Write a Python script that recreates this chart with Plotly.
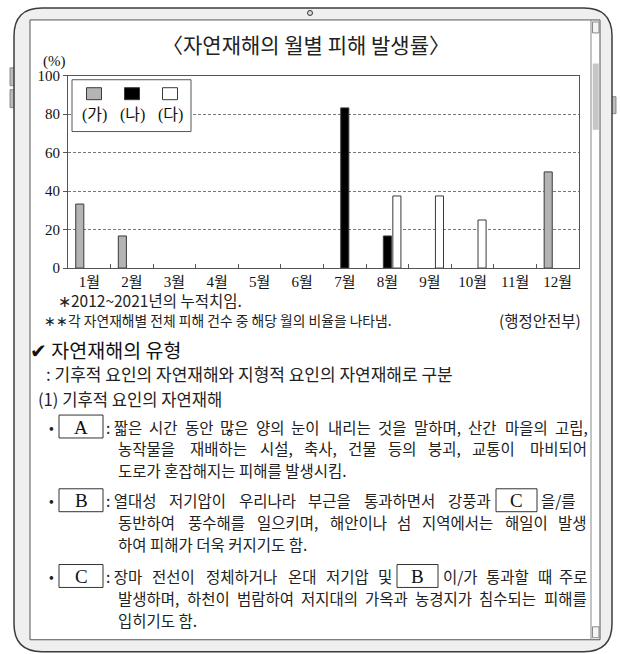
import plotly.graph_objects as go

# ---------------- data ----------------
months = ["1월", "2월", "3월", "4월", "5월", "6월", "7월", "8월", "9월", "10월", "11월", "12월"]
series_names = ["(가)", "(나)", "(다)"]
ga_values = [33.3, 16.7, None, None, None, None, None, None, None, None, None, 50.0]
na_values = [None, None, None, None, None, None, 83.3, 16.7, None, None, None, None]
da_values = [None, None, None, None, None, None, None, 37.5, 37.5, 25.0, None, None]
y_ticks = [0, 20, 40, 60, 80, 100]

W, H = 620, 654
YS, YO = 0.979, 6.0  # compensation for the photographed page


def X(px):
    return px / W


def Y(py):
    return 1 - ((py - YO) / YS) / H


SERIF = "Liberation Serif, Noto Sans CJK KR, serif"
SANS = "Noto Sans CJK KR, Noto Sans, sans-serif"
BODY = 15.5

fig = go.Figure()
colors = ["#b4b4b4", "#000000", "#ffffff"]
for name, vals, col in zip(series_names, [ga_values, na_values, da_values], colors):
    fig.add_trace(go.Bar(
        x=months, y=vals, name=name,
        marker=dict(color=col, line=dict(color="#3a3a3a", width=1)),
        showlegend=False, hoverinfo="skip",
    ))

shapes = []
ann = []


def rect(x0, y0, x1, y1, fill="rgba(0,0,0,0)", line="#333", lw=1, layer="above"):
    shapes.append(dict(type="rect", xref="paper", yref="paper",
                       x0=X(x0), x1=X(x1), y0=Y(y0), y1=Y(y1),
                       fillcolor=fill, line=dict(color=line, width=lw), layer=layer))


def rounded_path(x0, y0, x1, y1, r):
    pts = [
        ("M", [(x0 + r, y0)]),
        ("L", [(x1 - r, y0)]),
        ("Q", [(x1, y0), (x1, y0 + r)]),
        ("L", [(x1, y1 - r)]),
        ("Q", [(x1, y1), (x1 - r, y1)]),
        ("L", [(x0 + r, y1)]),
        ("Q", [(x0, y1), (x0, y1 - r)]),
        ("L", [(x0, y0 + r)]),
        ("Q", [(x0, y0), (x0 + r, y0)]),
    ]
    s = ""
    for cmd, ps in pts:
        s += cmd + " ".join(f"{X(px):.5f},{Y(py):.5f}" for px, py in ps) + " "
    return s + "Z"


# tablet frame
for (bx0, by0, bx1, by1) in [(10, 66, 14.5, 84), (10, 88, 14.5, 106), (611, 95, 616, 112)]:
    shapes.append(dict(type="rect", xref="paper", yref="paper", x0=X(bx0), x1=X(bx1), y0=Y(by0), y1=Y(by1),
                       fillcolor="#bdbdbd", line=dict(color="#777", width=0.8), layer="below"))
shapes.append(dict(type="path", xref="paper", yref="paper", path=rounded_path(14, 6, 612, 652, 28),
                   fillcolor="#efefef", line=dict(color="#3c3c3c", width=1.5), layer="below"))
rect(30, 18, 600, 640, fill="#ffffff", line="#555", lw=1, layer="below")
# camera
shapes.append(dict(type="circle", xref="paper", yref="paper", x0=X(307.5), x1=X(312.5), y0=Y(8.5), y1=Y(13.5),
                   fillcolor="#dddddd", line=dict(color="#333", width=1), layer="below"))
# scrollbar
shapes.append(dict(type="line", xref="paper", yref="paper", x0=X(591), x1=X(591), y0=Y(18), y1=Y(640),
                   line=dict(color="#888", width=1), layer="below"))
rect(592.5, 20, 599, 31, fill="#f4f4f4", line="#888", lw=1, layer="below")
rect(593, 62, 598.5, 128, fill="#c6c6c6", line="#c6c6c6", lw=0.5, layer="below")
rect(592.5, 627, 599, 638, fill="#f4f4f4", line="#888", lw=1, layer="below")


def txt(s, x, y, size=BODY, anchor="left", family=SANS, color="#222"):
    ann.append(dict(text=s, x=X(x), y=Y(y), xref="paper", yref="paper", showarrow=False,
                    xanchor=anchor, yanchor="middle", borderpad=0,
                    font=dict(family=family, size=size, color=color)))


def est_width(word, size):
    w = 0.0
    for ch in word:
        if 0xAC00 <= ord(ch) <= 0xD7A3:
            w += 1.0
        elif ch in ",.:;":
            w += 0.25
        elif ch == " ":
            w += 0.224
        elif ch in "/()":
            w += 0.38
        else:
            w += 0.55
    return w * size


def justify(line, x0, x1, y, size=BODY):
    """Spread the words of a line so it fills x0..x1 (justified text)."""
    words = line.split(" ")
    if words[0] == ":":
        words = [": " + words[1]] + words[2:]
    widths = [est_width(w, size) for w in words]
    gap = (x1 - x0 - sum(widths)) / (len(words) - 1)
    pos = x0
    for i, (w, wd) in enumerate(zip(words, widths)):
        if i == 0:
            txt(w, x0, y, size)
        elif i == len(words) - 1:
            txt(w, x1, y, size, anchor="right")
        else:
            txt(w, pos + wd / 2, y, size, anchor="center")
        pos += wd + gap


# custom legend (swatch above label)
rect(72, 78, 191, 130, fill="#ffffff", line="#555", lw=1)
leg_x = [94, 132, 170]
for cx, col, nm in zip(leg_x, colors, series_names):
    rect(cx - 7.5, 86, cx + 7.5, 98, fill=col, line="#3a3a3a", lw=1)
    txt(nm, cx, 113, size=16, anchor="center", family=SERIF, color="#111")

# chart title & unit
txt("〈자연재해의 월별 피해 발생률〉", 306, 42, size=21, anchor="center")
txt("(%)", 54, 60, size=15, anchor="center", family=SERIF, color="#111")

# notes
txt("∗2012~2021년의 누적치임.", 57, 299, size=15.5)
txt("∗∗각 자연재해별 전체 피해 건수 중 해당 월의 비율을 나타냄.", 43, 319, size=13.8)
txt("(행정안전부)", 582, 319, size=15.5, anchor="right")

txt("✔ 자연재해의 유형", 29, 349, size=19.5, color="#111")
txt(": 기후적 요인의 자연재해와 지형적 요인의 자연재해로 구분", 45, 373, size=17)
txt("(1) 기후적 요인의 자연재해", 37, 398, size=16.6)


def boxed(letter, x0, x1, yc):
    rect(x0, yc - 11.5, x1, yc + 11.5, fill="#ffffff", line="#333", lw=1)
    txt(letter, (x0 + x1) / 2, yc + 0.5, size=19, anchor="center", family=SERIF, color="#111")


RIGHT = 589

# A
txt("•", 48, 426, size=14)
boxed("A", 59, 103, 426)
justify(": 짧은 시간 동안 많은 양의 눈이 내리는 것을 말하며, 산간 마을의 고립,", 105, RIGHT, 426)
justify("농작물을 재배하는 시설, 축사, 건물 등의 붕괴, 교통이 마비되어", 117, RIGHT - 1, 448)
txt("도로가 혼잡해지는 피해를 발생시킴.", 117, 470)

# B
txt("•", 48, 500, size=14)
boxed("B", 59, 103, 500)
justify(": 열대성 저기압이 우리나라 부근을 통과하면서 강풍과", 105, 492, 500)
boxed("C", 496, 537, 500)
txt("을/를", 540, 500)
justify("동반하여 풍수해를 일으키며, 해안이나 섬 지역에서는 해일이 발생", 117, RIGHT - 1, 522)
txt("하여 피해가 더욱 커지기도 함.", 117, 544)

# C
txt("•", 48, 576, size=14)
boxed("C", 59, 103, 576)
justify(": 장마 전선이 정체하거나 온대 저기압 및", 105, 393, 576)
boxed("B", 397, 438, 576)
justify("이/가 통과할 때 주로", 442, RIGHT, 576)
justify("발생하며, 하천이 범람하여 저지대의 가옥과 농경지가 침수되는 피해를", 117, RIGHT - 1, 598)
txt("입히기도 함.", 117, 620)

fig.update_layout(
    width=W, height=H,
    margin=dict(l=0, r=0, t=0, b=0),
    paper_bgcolor="#ffffff",
    plot_bgcolor="rgba(0,0,0,0)",
    barmode="group",
    bargap=0.33,
    bargroupgap=0.15,
    shapes=shapes,
    annotations=ann,
    xaxis=dict(
        domain=[X(68), X(579)],
        type="category",
        tickson="boundaries",
        ticks="inside", ticklen=4, tickcolor="#555",
        showline=True, linecolor="#555", linewidth=1, mirror=True,
        showgrid=False,
        tickfont=dict(family=SERIF, size=15, color="#111"),
    ),
    yaxis=dict(
        domain=[Y(267), Y(74)],
        range=[0, 100],
        tickvals=y_ticks,
        ticks="outside", ticklen=4, tickcolor="#555",
        showline=True, linecolor="#555", linewidth=1, mirror=True,
        showgrid=True, gridcolor="#777", gridwidth=1, griddash="3px,2px",
        zeroline=False,
        tickfont=dict(family=SERIF, size=15, color="#111"),
    ),
)

fig.write_html(
    "out.html",
    config={"displayModeBar": False, "staticPlot": True},
    post_script="document.body.style.margin='0';document.body.style.overflow='hidden';",
)
